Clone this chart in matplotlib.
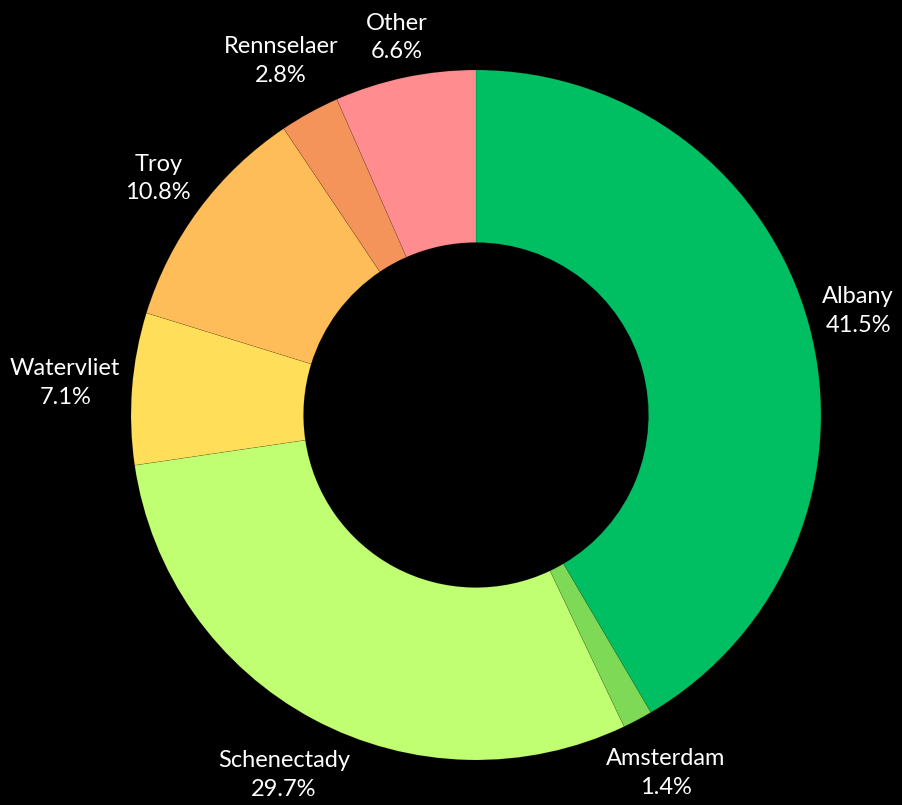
import numpy as np
import matplotlib.pyplot as plt

labels = ["Albany", "Amsterdam", "Schenectady", "Watervliet", "Troy", "Rennselaer", "Other"]
shares = [41.5, 1.4, 29.7, 7.1, 10.8, 2.8, 6.6]
colors = ["#00BF63", "#7ED957", "#C1FF72", "#FFDE59", "#FFBD59", "#F4935A", "#FF8D8F"]

plt.rcParams['font.family'] = ['Lato', 'DejaVu Sans']

fig = plt.figure(figsize=(9.03, 8.05), dpi=100, facecolor="black")
# center at (476, 415) px, radius 345 px
R_PX = 345
ax = fig.add_axes([(476 - R_PX) / 903, (805 - 415 - R_PX) / 805, 2 * R_PX / 903, 2 * R_PX / 805])
ax.set_facecolor("black")

texts = [f"{l}\n{s}%" for l, s in zip(labels, shares)]
wedges, txt = ax.pie(shares, labels=texts, colors=colors, startangle=90, counterclock=False,
                     radius=1, labeldistance=1.17,
                     wedgeprops=dict(width=0.5, edgecolor="#00000025", linewidth=0.5),
                     textprops=dict(color="white", fontsize=17, linespacing=1.45))

ax.set_xlim(-1, 1)
ax.set_ylim(-1, 1)
ax.set_aspect("equal")
ax.axis("off")

# push each label out so its box sits a small gap outside the ring
fig.canvas.draw()
renderer = fig.canvas.get_renderer()
gap = 10
for w, t in zip(wedges, txt):
    t.set_ha("center")
    t.set_va("center")
    ang = np.deg2rad((w.theta1 + w.theta2) / 2)
    bb = t.get_window_extent(renderer)
    hw, hh = bb.width / 2, bb.height / 2
    d = (R_PX + gap + hw * abs(np.cos(ang)) + hh * abs(np.sin(ang))) / R_PX
    t.set_position((d * np.cos(ang), d * np.sin(ang)))

fig.savefig("out.png", dpi=100, facecolor="black")
